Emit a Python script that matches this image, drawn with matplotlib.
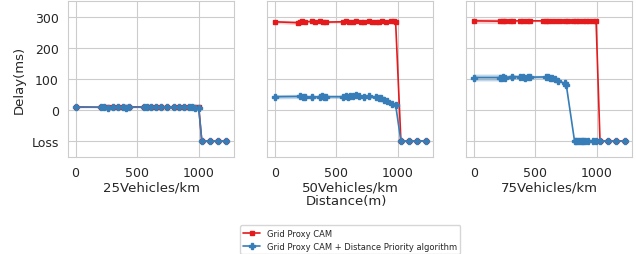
import numpy as np
import seaborn as sns
import matplotlib
matplotlib.use("Agg")
import matplotlib.pyplot as plt

# Loss is plotted at -100
LOSS = -100
loss_x = [1025, 1090, 1155, 1225]

# 25 vehicles/km
x25 = [0, 207, 234, 261, 301, 341, 382, 409, 435, 556, 583, 610, 650, 691,
       745, 798, 839, 879, 919, 946, 973, 1000]
cam25 = [10, 9, 10, 9, 10, 9, 10, 9, 10, 10, 9, 10, 10, 9, 10, 10, 9, 10, 10, 9, 10, 9]
dp25 = [9, 9, 9, 8, 9, 9, 9, 8, 9, 9, 9, 9, 9, 9, 9, 9, 9, 9, 9, 9, 8, 8]

# 50 vehicles/km
x50_cam = [0, 192, 206, 219, 246, 299, 326, 366, 393, 420, 554, 581, 607, 634,
           661, 701, 727, 767, 794, 821, 848, 875, 901, 941, 968, 982]
cam50 = [285, 282, 284, 286, 285, 286, 285, 286, 285, 284, 285, 286, 284, 285,
         286, 284, 285, 286, 284, 283, 285, 286, 285, 287, 286, 285]
cam50_ci = [5, 7, 5, 4, 4, 4, 4, 4, 4, 4, 4, 4, 4, 4, 4, 4, 4, 4, 4, 4, 4, 4, 4, 4, 4, 4]
x50_dp = [0, 206, 227, 246, 299, 366, 385, 401, 420, 554, 575, 594, 612, 634,
          661, 687, 727, 767, 821, 843, 861, 888, 915, 955, 982]
dp50 = [43, 44, 43, 43, 42, 43, 44, 43, 43, 43, 44, 43, 45, 44, 47, 44, 43, 44,
        42, 40, 38, 32, 28, 19, 16]
dp50_ci = [7, 7, 6, 6, 6, 6, 6, 6, 6, 6, 6, 6, 6, 6, 6, 6, 6, 6, 5, 5, 4, 4, 3, 3, 3]

# 75 vehicles/km
x75_cam = [0, 215, 234, 255, 295, 322, 376, 403, 429, 456, 563, 585, 604, 631,
           671, 697, 738, 765, 805, 832, 858, 885, 912, 939, 966, 993]
cam75 = [288, 287, 288, 288, 287, 288, 288, 289, 288, 288, 288, 288, 287, 288,
         288, 288, 287, 288, 286, 287, 288, 288, 288, 288, 288, 288]
cam75_ci = [8, 8, 4, 4, 3, 3, 3, 3, 3, 3, 3, 3, 3, 3, 3, 3, 3, 3, 3, 3, 3, 3, 3, 3, 3, 3]
x75_dp = [0, 215, 228, 241, 255, 308, 376, 397, 416, 443, 456, 590, 604, 617,
          638, 657, 684, 738, 751]
dp75 = [105, 105, 104, 106, 105, 108, 107, 106, 105, 107, 106, 107, 108, 105,
        103, 101, 95, 86, 81]
dp75_ci = [11, 11, 9, 8, 7, 7, 7, 6, 6, 6, 6, 5, 5, 5, 4, 4, 3, 3, 3]
x75_dp_loss = [818, 830, 845, 860, 875, 890, 905, 930, 966, 993]

titles = ["25Vehicles/km", "50Vehicles/km", "75Vehicles/km"]
yticks = [300, 200, 100, 0, LOSS]
ytick_labels = ["300", "200", "100", "0", "Loss"]

red = "#e41a1c"
blue = "#377eb8"

sns.set_style("whitegrid")
plt.rcParams['font.family'] = ['DejaVu Sans']

fig, axes = plt.subplots(1, 3, figsize=(6.36, 2.55), dpi=100, sharey=True)
fig.subplots_adjust(left=0.107, right=0.994, top=0.992, bottom=0.38, wspace=0.2)

panels = [
    (x25, cam25, [1] * len(x25), x25, dp25, [1] * len(x25), []),
    (x50_cam, cam50, cam50_ci, x50_dp, dp50, dp50_ci, []),
    (x75_cam, cam75, cam75_ci, x75_dp, dp75, dp75_ci, x75_dp_loss),
]

for ax, title, (xc, yc, ec, xd, yd, ed, xdl) in zip(axes, titles, panels):
    xc_all = np.array(xc + loss_x)
    yc_all = np.array(yc + [LOSS] * len(loss_x))
    ec_all = np.array(ec + [0] * len(loss_x))
    xd_all = np.array(xd + xdl + loss_x)
    yd_all = np.array(yd + [LOSS] * (len(xdl) + len(loss_x)))
    ed_all = np.array(ed + [0] * (len(xdl) + len(loss_x)))

    ax.fill_between(xc_all, yc_all - ec_all, yc_all + ec_all, color=red, alpha=0.2, lw=0)
    ax.plot(xc_all, yc_all, color=red, marker="s", ms=3.5, lw=1.2,
            label="Grid Proxy CAM")
    ax.fill_between(xd_all, yd_all - ed_all, yd_all + ed_all, color=blue, alpha=0.3, lw=0)
    ax.plot(xd_all, yd_all, color=blue, marker="P", ms=4, lw=1.2,
            label="Grid Proxy CAM + Distance Priority algorithm")

    ax.set_ylim(-152, 352)
    ax.set_xticks([0, 500, 1000])
    ax.set_xlabel(title, fontsize=9.5, labelpad=1)
    ax.tick_params(labelsize=9, pad=3)
    for s in ax.spines.values():
        s.set_color("#cccccc")

axes[0].set_yticks(yticks)
axes[0].set_yticklabels(ytick_labels)
axes[0].set_ylabel("Delay(ms)", fontsize=9.5)

fig.text(0.545, 0.21, "Distance(m)", ha="center", va="center", fontsize=9.5)

handles, labels = axes[1].get_legend_handles_labels()
axes[1].legend(handles, labels, loc="upper center", bbox_to_anchor=(0.5, -0.41),
               fontsize=6, frameon=True, handlelength=2)

fig.savefig("out.png", dpi=100)
